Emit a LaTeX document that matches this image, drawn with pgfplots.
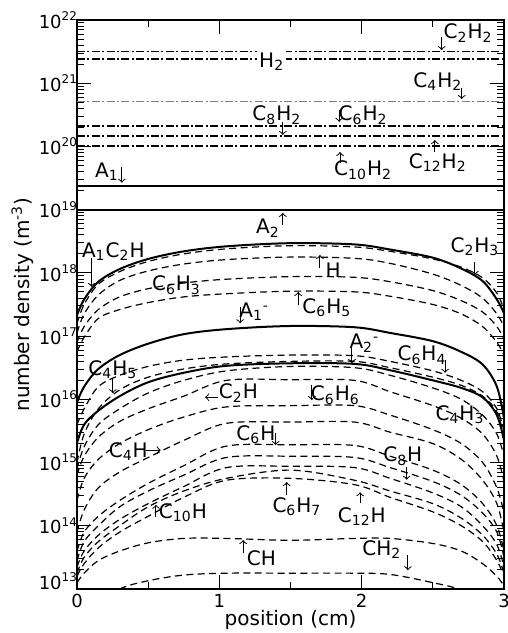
\documentclass[border=0pt]{standalone}
\usepackage{fontspec}
\setmainfont{DejaVu Sans}
\usepackage{pgfplots}
\pgfplotsset{compat=1.18}
\newcommand{\s}[1]{\textsubscript{#1}}

\pgfplotsset{
  sld/.style={black, line width=1pt, smooth, tension=0.55},
  dsh/.style={black, line width=0.6pt, dash pattern=on 3.5pt off 2.2pt, smooth, tension=0.55},
  ddot/.style={black, line width=0.75pt, dash pattern=on 4pt off 1.2pt on 1pt off 1.2pt},
}

\begin{document}
\fontsize{10pt}{12pt}\selectfont
\begin{tikzpicture}
\begin{axis}[
  scale only axis,
  width=213.5pt, height=284.5pt,
  xmin=0, xmax=3,
  ymode=log, log basis y=10,
  ymin=1e13, ymax=1e22,
  ytickten={14,...,22},
  extra y ticks={1e13},
  extra y tick labels={10\textsuperscript{13}},
  extra y tick style={yticklabel style={yshift=4pt}},
  minor ytick={2e13,3e13,4e13,5e13,6e13,7e13,8e13,9e13,
               2e14,3e14,4e14,5e14,6e14,7e14,8e14,9e14,
               2e15,3e15,4e15,5e15,6e15,7e15,8e15,9e15,
               2e16,3e16,4e16,5e16,6e16,7e16,8e16,9e16,
               2e17,3e17,4e17,5e17,6e17,7e17,8e17,9e17,
               2e18,3e18,4e18,5e18,6e18,7e18,8e18,9e18,
               2e19,3e19,4e19,5e19,6e19,7e19,8e19,9e19,
               2e20,3e20,4e20,5e20,6e20,7e20,8e20,9e20,
               2e21,3e21,4e21,5e21,6e21,7e21,8e21,9e21},
  yticklabel={10\textsuperscript{\pgfmathprintnumber[fixed,precision=0]{\tick}}},
  xtick={0,1,2,3},
  minor xtick={0.5,1.5,2.5},
  /pgf/number format/assume math mode=true,
  tick label style={font=\fontsize{9pt}{10.8pt}\selectfont},
  major tick length=7pt,
  minor tick length=3.5pt,
  tick style={black, line width=0.5pt},
  axis line style={line width=0.8pt},
  xticklabel style={yshift=1pt},
  yticklabel style={xshift=4pt},
  xlabel={position (cm)},
  ylabel={number density (m\textsuperscript{-3})},
  xlabel style={at={(rel axis cs:0.5,-0.055)}, anchor=center},
  ylabel style={at={(rel axis cs:-0.128,0.5)}, anchor=center},
  clip=true,
]
% constant profiles
\addplot[ddot] coordinates {(0,3.16e21) (3,3.16e21)};   % C2H2
\addplot[ddot] coordinates {(0,2.4e21) (3,2.4e21)};     % H2
\addplot[ddot, gray] coordinates {(0,5.1e20) (3,5.1e20)}; % C4H2
\addplot[ddot] coordinates {(0,2.1e20) (3,2.1e20)};     % C6H2
\addplot[ddot] coordinates {(0,1.46e20) (3,1.46e20)};   % C8H2
\addplot[ddot] coordinates {(0,1.02e20) (3,1.02e20)};   % C10H2
\addplot[sld] coordinates {(0,2.4e19) (3,2.4e19)};      % A1
\addplot[sld] coordinates {(0,9.7e18) (3,9.7e18)};      % A2

% A1C2H
\addplot[sld] coordinates {(0,2.14e17) (0.05,3.8e17) (0.15,7.24e17) (0.3,1.15e18) (0.5,1.66e18) (0.75,2.19e18) (1.05,2.63e18) (1.5,2.95e18) (1.95,2.82e18) (2.2,2.34e18) (2.5,1.74e18) (2.7,1.17e18) (2.85,7.41e17) (2.95,3.8e17) (3,2.29e17)};
% C2H3
\addplot[dsh] coordinates {(0,1.585e17) (0.05,3.16e17) (0.15,6.61e17) (0.3,1.047e18) (0.5,1.514e18) (0.75,1.995e18) (1.05,2.399e18) (1.5,2.69e18) (1.95,2.57e18) (2.2,2.188e18) (2.5,1.66e18) (2.7,1.23e18) (2.85,8.32e17) (2.95,4.79e17) (3,2.63e17)};
% H
\addplot[dsh] coordinates {(0,1.122e17) (0.05,2.239e17) (0.15,4.467e17) (0.3,7.586e17) (0.5,1.072e18) (0.75,1.38e18) (1.05,1.622e18) (1.5,1.778e18) (1.95,1.698e18) (2.2,1.413e18) (2.5,9.55e17) (2.7,6.31e17) (2.85,3.98e17) (2.95,2.239e17) (3,1.413e17)};
% C6H3
\addplot[dsh] coordinates {(0,7.94e16) (0.05,1.413e17) (0.15,2.63e17) (0.3,4.169e17) (0.5,5.623e17) (0.75,6.918e17) (1.05,7.943e17) (1.5,8.71e17) (1.95,8.511e17) (2.2,7.244e17) (2.5,5.248e17) (2.7,3.631e17) (2.85,2.399e17) (2.95,1.413e17) (3,8.913e16)};
% C6H5
\addplot[dsh] coordinates {(0,5.623e16) (0.05,9.55e16) (0.15,1.905e17) (0.3,2.63e17) (0.5,3.388e17) (0.75,4.169e17) (1.05,4.677e17) (1.5,5.129e17) (1.95,5.012e17) (2.2,4.266e17) (2.5,3.162e17) (2.7,2.239e17) (2.85,1.413e17) (2.95,7.943e16) (3,5.012e16)};
% A1-
\addplot[sld] coordinates {(0,8.913e15) (0.05,1.585e16) (0.15,3.02e16) (0.3,5.012e16) (0.5,7.586e16) (0.75,1.072e17) (1.05,1.288e17) (1.5,1.445e17) (1.95,1.38e17) (2.2,1.122e17) (2.5,8.318e16) (2.7,5.623e16) (2.85,3.548e16) (2.95,1.585e16) (3,5.012e15)};
% C6H4
\addplot[dsh] coordinates {(0,3.981e15) (0.05,7.079e15) (0.15,1.585e16) (0.3,2.399e16) (0.5,3.311e16) (0.75,4.169e16) (1.05,4.677e16) (1.5,5.012e16) (1.95,4.898e16) (2.2,3.981e16) (2.5,2.818e16) (2.7,1.995e16) (2.85,1.318e16) (2.95,7.079e15) (3,3.162e15)};
% C4H5
\addplot[dsh] coordinates {(0,1e15) (0.05,2.818e15) (0.15,7.079e15) (0.3,1.413e16) (0.5,2.239e16) (0.75,3.02e16) (1.05,3.631e16) (1.5,3.981e16) (1.95,3.981e16) (2.2,3.162e16) (2.5,2.239e16) (2.7,1.66e16) (2.85,1.122e16) (2.95,6.31e15) (3,2.512e15)};
% A2-
\addplot[sld] coordinates {(0,2.042e15) (0.05,3.981e15) (0.15,6.607e15) (0.3,1.122e16) (0.5,1.862e16) (0.75,2.63e16) (1.05,3.388e16) (1.5,3.715e16) (1.95,3.631e16) (2.2,2.884e16) (2.5,1.995e16) (2.7,1.514e16) (2.85,1.072e16) (2.95,5.623e15) (3,2.239e15)};
% C4H3
\addplot[dsh] coordinates {(0,7.943e14) (0.05,1.778e15) (0.15,3.981e15) (0.3,7.079e15) (0.5,1.259e16) (0.75,1.995e16) (1.05,2.818e16) (1.5,3.311e16) (1.95,3.162e16) (2.2,2.399e16) (2.5,1.514e16) (2.7,1e16) (2.85,5.623e15) (2.95,2.818e15) (3,1.259e15)};
% C2H
\addplot[dsh] coordinates {(0,6.31e14) (0.05,1.259e15) (0.15,2.512e15) (0.3,4.467e15) (0.5,7.079e15) (0.75,1.122e16) (1.05,1.995e16) (1.5,2.042e16) (1.95,1.995e16) (2.2,1.318e16) (2.5,7.943e15) (2.7,5.012e15) (2.85,2.818e15) (2.95,1.259e15) (3,5.012e14)};
% C6H6
\addplot[dsh] coordinates {(0,2.512e14) (0.05,5.623e14) (0.15,1.122e15) (0.3,1.995e15) (0.5,3.311e15) (0.75,5.248e15) (1.05,7.586e15) (1.5,7.943e15) (1.95,7.943e15) (2.2,5.623e15) (2.5,3.311e15) (2.7,1.995e15) (2.85,1e15) (2.95,3.981e14) (3,1.585e14)};
% C4H
\addplot[dsh] coordinates {(0,7.943e13) (0.05,1.778e14) (0.15,3.981e14) (0.3,7.079e14) (0.5,1.202e15) (0.75,2.239e15) (1.05,4.169e15) (1.5,4.365e15) (1.95,4.365e15) (2.2,3.02e15) (2.5,1.995e15) (2.7,1.122e15) (2.85,5.248e14) (2.95,2.239e14) (3,7.943e13)};
% C6H
\addplot[dsh] coordinates {(0,3.981e13) (0.05,7.943e13) (0.15,1.413e14) (0.3,2.512e14) (0.5,4.677e14) (0.75,8.913e14) (1.05,1.82e15) (1.5,1.905e15) (1.95,1.862e15) (2.2,1.259e15) (2.5,7.586e14) (2.7,4.467e14) (2.85,2.239e14) (2.95,1e14) (3,3.981e13)};
% C8H
\addplot[dsh] coordinates {(0,2.818e13) (0.05,5.623e13) (0.15,1e14) (0.3,1.995e14) (0.5,3.548e14) (0.75,6.31e14) (1.05,1.202e15) (1.5,1.259e15) (1.95,1.202e15) (2.2,8.318e14) (2.5,5.012e14) (2.7,3.02e14) (2.85,1.585e14) (2.95,7.943e13) (3,3.162e13)};
% C10H
\addplot[dsh] coordinates {(0,2.239e13) (0.05,3.981e13) (0.15,7.079e13) (0.3,1.259e14) (0.5,2.239e14) (0.75,4.169e14) (1.05,8.318e14) (1.5,8.71e14) (1.95,8.318e14) (2.2,5.623e14) (2.5,3.311e14) (2.7,1.995e14) (2.85,1e14) (2.95,5.012e13) (3,2.239e13)};
% C6H7
\addplot[dsh] coordinates {(0,1.778e13) (0.05,3.162e13) (0.15,5.623e13) (0.3,1e14) (0.5,1.995e14) (0.75,3.548e14) (1.05,5.623e14) (1.5,7.586e14) (1.95,5.248e14) (2.2,3.548e14) (2.5,2.239e14) (2.7,1.318e14) (2.85,7.079e13) (2.95,3.548e13) (3,1.778e13)};
% C12H
\addplot[dsh] coordinates {(0,1.585e13) (0.05,2.512e13) (0.15,4.467e13) (0.3,7.943e13) (0.5,1.413e14) (0.75,2.818e14) (1.05,5.248e14) (1.5,5.623e14) (1.95,4.467e14) (2.2,2.818e14) (2.5,1.66e14) (2.7,1e14) (2.85,5.623e13) (2.95,2.818e13) (3,1.585e13)};
% CH
\addplot[dsh] coordinates {(0,1.259e13) (0.05,1.778e13) (0.15,2.818e13) (0.3,3.981e13) (0.5,5.37e13) (0.75,6.31e13) (1.05,6.31e13) (1.5,5.888e13) (1.95,6.31e13) (2.2,6.31e13) (2.5,5.248e13) (2.7,3.981e13) (2.85,2.512e13) (2.95,1.585e13) (3,1.122e13)};
% CH2
\addplot[dsh] coordinates {(0.1,5.012e12) (0.3,1e13) (0.5,1.349e13) (0.75,1.66e13) (1.05,1.778e13) (1.5,1.778e13) (1.95,1.778e13) (2.2,1.698e13) (2.5,1.259e13) (2.7,9.55e12) (2.9,5.012e12)};

% species labels
\begin{scope}[every node/.style={inner sep=1pt}, >=to, line width=0.5pt]
\node at (rel axis cs:0.916,0.977) {C\s{2}H\s{2}};
\draw[->] (rel axis cs:0.854,0.970) -- (rel axis cs:0.854,0.947);
\node[fill=white] at (rel axis cs:0.456,0.927) {H\s{2}};
\node at (rel axis cs:0.845,0.892) {C\s{4}H\s{2}};
\draw[->] (rel axis cs:0.901,0.880) -- (rel axis cs:0.901,0.861);
\node at (rel axis cs:0.468,0.833) {C\s{8}H\s{2}};
\draw[->] (rel axis cs:0.482,0.821) -- (rel axis cs:0.482,0.798);
\node at (rel axis cs:0.670,0.833) {C\s{6}H\s{2}};
\draw[->] (rel axis cs:0.614,0.842) -- (rel axis cs:0.614,0.821);
\node at (rel axis cs:0.670,0.736) {C\s{10}H\s{2}};
\draw[->] (rel axis cs:0.616,0.749) -- (rel axis cs:0.616,0.768);
\node at (rel axis cs:0.845,0.749) {C\s{12}H\s{2}};
\draw[->] (rel axis cs:0.838,0.768) -- (rel axis cs:0.838,0.789);
\node at (rel axis cs:0.070,0.733) {A\s{1}};
\draw[->] (rel axis cs:0.105,0.742) -- (rel axis cs:0.105,0.714);
\node at (rel axis cs:0.447,0.634) {A\s{2}};
\draw[->] (rel axis cs:0.482,0.640) -- (rel axis cs:0.482,0.661);
\node at (rel axis cs:0.085,0.593) {A\s{1}C\s{2}H};
\draw[->] (rel axis cs:0.034,0.582) -- (rel axis cs:0.034,0.531);
\node at (rel axis cs:0.932,0.602) {C\s{2}H\s{3}};
\draw[->] (rel axis cs:0.932,0.575) -- (rel axis cs:0.932,0.552);
\node at (rel axis cs:0.600,0.561) {H};
\draw[->] (rel axis cs:0.569,0.564) -- (rel axis cs:0.569,0.587);
\node at (rel axis cs:0.233,0.534) {C\s{6}H\s{3}};
\node at (rel axis cs:0.585,0.494) {C\s{6}H\s{5}};
\draw[->] (rel axis cs:0.518,0.499) -- (rel axis cs:0.518,0.522);
\node at (rel axis cs:0.415,0.487) {A\s{1}\textsuperscript{-}};
\draw[->] (rel axis cs:0.382,0.496) -- (rel axis cs:0.382,0.467);
\node at (rel axis cs:0.084,0.385) {C\s{4}H\s{5}};
\draw[->] (rel axis cs:0.084,0.371) -- (rel axis cs:0.084,0.344);
\node at (rel axis cs:0.673,0.432) {A\s{2}\textsuperscript{-}};
\draw[->] (rel axis cs:0.644,0.424) -- (rel axis cs:0.644,0.397);
\node at (rel axis cs:0.808,0.411) {C\s{6}H\s{4}};
\draw[->] (rel axis cs:0.862,0.402) -- (rel axis cs:0.862,0.380);
\node at (rel axis cs:0.378,0.344) {C\s{2}H};
\draw[->] (rel axis cs:0.330,0.337) -- (rel axis cs:0.300,0.337);
\node at (rel axis cs:0.605,0.341) {C\s{6}H\s{6}};
\draw[->] (rel axis cs:0.550,0.359) -- (rel axis cs:0.550,0.332);
\node at (rel axis cs:0.897,0.306) {C\s{4}H\s{3}};
\node at (rel axis cs:0.120,0.241) {C\s{4}H};
\draw[->] (rel axis cs:0.161,0.244) -- (rel axis cs:0.196,0.244);
\node at (rel axis cs:0.419,0.271) {C\s{6}H};
\draw[->] (rel axis cs:0.465,0.274) -- (rel axis cs:0.465,0.253);
\node at (rel axis cs:0.763,0.233) {C\s{8}H};
\draw[->] (rel axis cs:0.772,0.214) -- (rel axis cs:0.772,0.192);
\node at (rel axis cs:0.248,0.134) {C\s{10}H};
\draw[->] (rel axis cs:0.185,0.127) -- (rel axis cs:0.185,0.148);
\node at (rel axis cs:0.515,0.145) {C\s{6}H\s{7}};
\draw[->] (rel axis cs:0.491,0.165) -- (rel axis cs:0.491,0.188);
\node at (rel axis cs:0.667,0.127) {C\s{12}H};
\draw[->] (rel axis cs:0.663,0.151) -- (rel axis cs:0.663,0.170);
\node at (rel axis cs:0.432,0.054) {CH};
\draw[->] (rel axis cs:0.389,0.063) -- (rel axis cs:0.389,0.086);
\node at (rel axis cs:0.714,0.069) {CH\s{2}};
\draw[->] (rel axis cs:0.775,0.060) -- (rel axis cs:0.775,0.033);
\end{scope}
\end{axis}
\pgfresetboundingbox
\path ([xshift=-38.5pt,yshift=-22pt]current axis.south west) rectangle ([xshift=1.5pt,yshift=10pt]current axis.north east);
\end{tikzpicture}
\end{document}
